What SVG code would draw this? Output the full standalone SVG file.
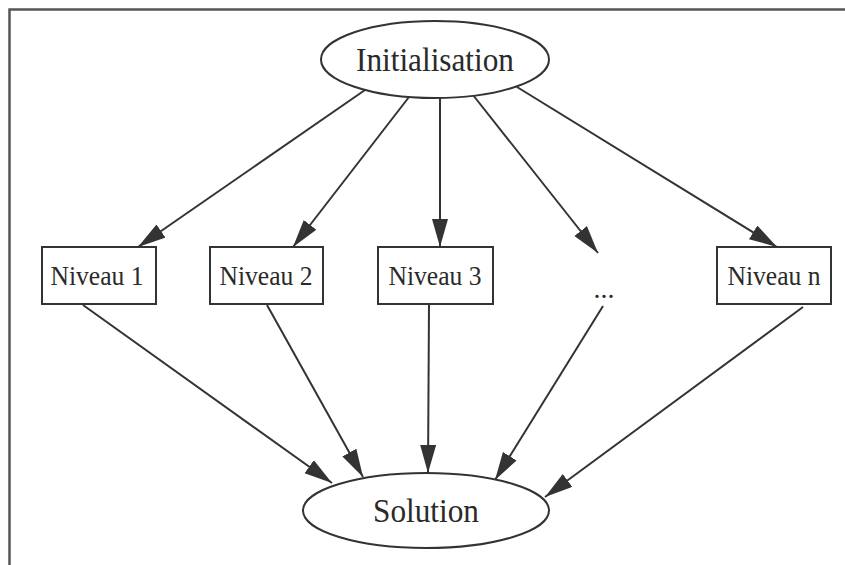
<svg xmlns="http://www.w3.org/2000/svg" width="845" height="565" viewBox="0 0 845 565">
<defs>
<style>
.frame{fill:none;stroke:#555;stroke-width:2.5}
.node{fill:#fff;stroke:#333;stroke-width:2}
.lbl{font-family:"Liberation Serif","Times New Roman",serif;fill:#2a2a2a;text-anchor:middle}
.big{font-size:33px}
.small{font-size:28px}
.edge{fill:none;stroke:#333;stroke-width:2;marker-end:url(#ah)}
</style>
<marker id="ah" markerUnits="userSpaceOnUse" markerWidth="30" markerHeight="18" refX="28" refY="8" orient="auto" viewBox="0 0 30 18">
<path d="M0,0 L28,8 L0,16 Z" fill="#333"/>
</marker>
</defs>
<rect width="845" height="565" fill="#fff"/>
<path class="frame" d="M9.5,565 L9.5,9.5 L845,9.5"/>
<g id="connectors">
<line class="edge" x1="365" y1="90" x2="138" y2="247"/>
<line class="edge" x1="409" y1="97" x2="293" y2="247"/>
<line class="edge" x1="440" y1="98" x2="440" y2="247"/>
<line class="edge" x1="473" y1="95" x2="598" y2="253"/>
<line class="edge" x1="517" y1="87" x2="777" y2="247"/>
<line class="edge" x1="83" y1="305" x2="332" y2="483"/>
<line class="edge" x1="267" y1="305" x2="363" y2="477"/>
<line class="edge" x1="429" y1="304" x2="428" y2="473"/>
<line class="edge" x1="603" y1="306" x2="495" y2="480"/>
<line class="edge" x1="803" y1="307" x2="545" y2="497"/>
</g>
<g id="initialisation">
<ellipse class="node" cx="435" cy="59.5" rx="114" ry="38.5"/>
<text class="lbl big" x="435" y="71" textLength="158" lengthAdjust="spacingAndGlyphs">Initialisation</text>
</g>
<g id="niveau1">
<rect class="node" x="42" y="247" width="114" height="57"/>
<text class="lbl small" x="97" y="285" textLength="93" lengthAdjust="spacingAndGlyphs">Niveau 1</text>
</g>
<g id="niveau2">
<rect class="node" x="210" y="247" width="113" height="57"/>
<text class="lbl small" x="266" y="285" textLength="93" lengthAdjust="spacingAndGlyphs">Niveau 2</text>
</g>
<g id="niveau3">
<rect class="node" x="378" y="247" width="115" height="57"/>
<text class="lbl small" x="435" y="285" textLength="93" lengthAdjust="spacingAndGlyphs">Niveau 3</text>
</g>
<g id="dots">
<text class="lbl small" x="604" y="298">...</text>
</g>
<g id="niveaun">
<rect class="node" x="717" y="247" width="114" height="57"/>
<text class="lbl small" x="774" y="285" textLength="93" lengthAdjust="spacingAndGlyphs">Niveau n</text>
</g>
<g id="solution">
<ellipse class="node" cx="426" cy="510.5" rx="123" ry="37.5"/>
<text class="lbl big" x="426" y="522" textLength="106" lengthAdjust="spacingAndGlyphs">Solution</text>
</g>
</svg>
